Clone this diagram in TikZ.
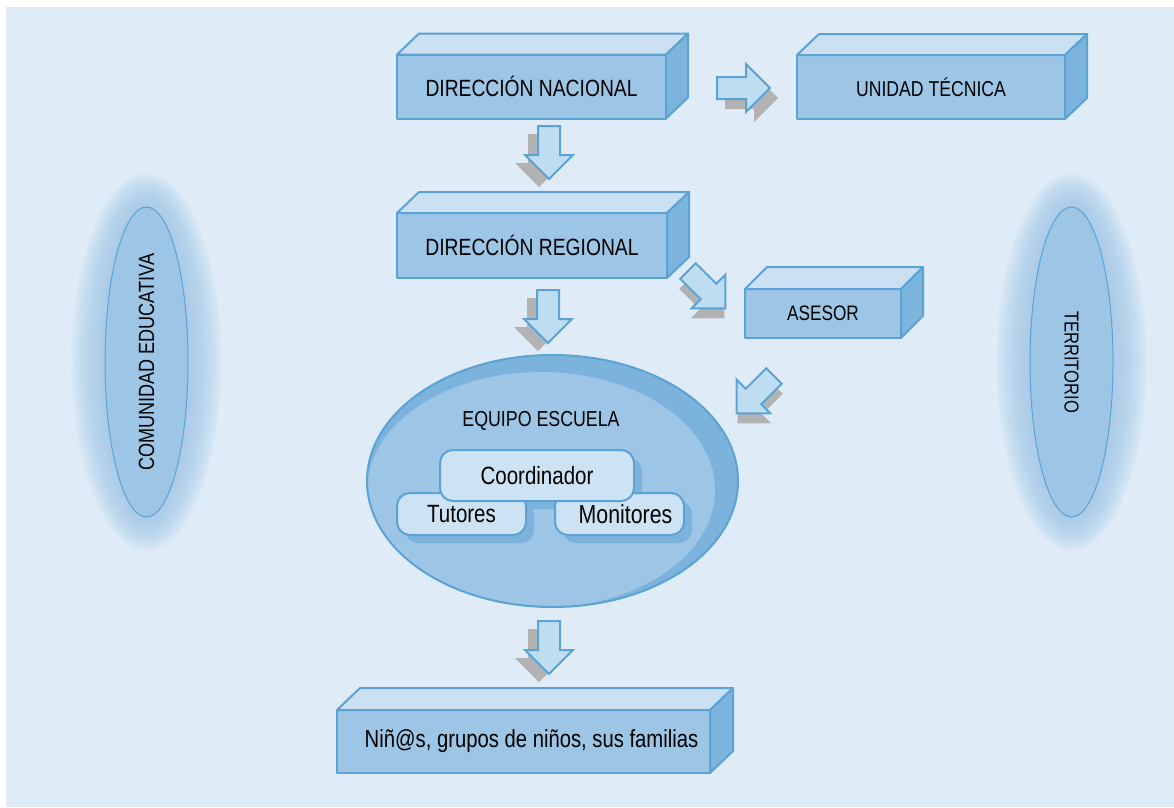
\documentclass[tikz,border=0pt]{standalone}
\usepackage{fontspec}
\setmainfont{Liberation Sans}[FakeStretch=0.82]
\usetikzlibrary{shapes.geometric,shadows,calc}
\definecolor{bg}{HTML}{DFECF7}
\definecolor{front}{HTML}{9DC6E6}
\definecolor{topc}{HTML}{CBE1F3}
\definecolor{sidec}{HTML}{7DB4DD}
\definecolor{border}{HTML}{5BA2D5}
\definecolor{arrowfill}{HTML}{BEDDF1}
\definecolor{shadowgray}{HTML}{B2B2B2}
\definecolor{crescent}{HTML}{7BB3DD}
\definecolor{lightbox}{HTML}{CDE3F4}
\newcommand\capsfont{\fontsize{21.5}{24}\selectfont}
\newcommand\bigcapsfont{\fontsize{23.5}{26}\selectfont}
\newcommand\lowfont{\fontsize{25}{28}\selectfont}
\tikzset{
  face/.style={fill=front, draw=border, line width=2pt, line join=round, inner sep=0pt, outer sep=0pt, font=\capsfont},
  topface/.style={fill=topc, draw=border, line width=2pt, line join=round},
  sideface/.style={fill=sidec, draw=border, line width=2pt, line join=round},
  arrowstyle/.style={fill=arrowfill, draw=border, line width=2pt, line join=miter},
  arrowshadow/.style={fill=shadowgray},
  rbox/.style={rounded corners=13pt, fill=lightbox, draw=border, line width=2pt, inner sep=0pt, font=\lowfont},
  rshadow/.style={drop shadow={shadow xshift=8pt, shadow yshift=-8pt, fill=crescent, opacity=1}},
  sideellipse/.style={ellipse, fill=front, draw=border, line width=1pt, inner sep=0pt, minimum width=310pt, minimum height=83pt, font=\fontsize{22}{24}\selectfont}
}
\newcommand\cubefaces[3]{%
  \draw[topface] (#1.north west) -- ++(#2,#3) -- ($(#1.north east)+(#2,#3)$) -- (#1.north east) -- cycle;
  \draw[sideface] (#1.north east) -- ++(#2,#3) -- ($(#1.south east)+(#2,#3)$) -- (#1.south east) -- cycle;
}
\newcommand\blockarrow[5]{%
  \fill[arrowshadow, shift={(#1,#2)}, shift={(#4,#5)}, rotate=#3]
    (0,-11) -- (29,-11) -- (29,-24) -- (53,0) -- (29,24) -- (29,11) -- (0,11) -- cycle;
  \filldraw[arrowstyle, shift={(#1,#2)}, rotate=#3]
    (0,-11) -- (29,-11) -- (29,-24) -- (53,0) -- (29,24) -- (29,11) -- (0,11) -- cycle;
}
\newcommand\glow[2]{%
  \foreach \i in {12,...,1}{%
    \pgfmathsetmacro\rx{41.5+2.8*\i}%
    \pgfmathsetmacro\ry{155+2.8*\i}%
    \fill[front, opacity=0.11] (#1,#2) ellipse [x radius=\rx, y radius=\ry];
  }%
}
\begin{document}
\begin{tikzpicture}[x=1pt,y=-1pt]
\useasboundingbox (0,0) rectangle (1174,807);
\fill[white] (0,0) rectangle (1174,807);
\fill[bg] (6,7) rectangle (1174,807);

% side ellipses
\glow{146.5}{362}
\node[sideellipse, rotate=90] (ce) at (146.5,362) {COMUNIDAD EDUCATIVA};
\glow{1071.5}{362}
\node[sideellipse, rotate=-90, font=\fontsize{20.2}{22}\selectfont] (te) at (1071.5,362) {TERRITORIO};

% boxes
\node[face, minimum width=269pt, minimum height=64pt, font=\bigcapsfont] (dn) at (531.5,86.5) {DIRECCIÓN NACIONAL};
\cubefaces{dn}{22}{-21}
\node[face, minimum width=268pt, minimum height=64pt] (ut) at (931,87) {UNIDAD TÉCNICA};
\cubefaces{ut}{22}{-21}
\node[face, minimum width=270pt, minimum height=65pt, font=\bigcapsfont] (dr) at (532,245.5) {DIRECCIÓN REGIONAL};
\cubefaces{dr}{22}{-21}
\node[face, minimum width=156pt, minimum height=49pt, font=\fontsize{21}{24}\selectfont] (as) at (823,313.5) {ASESOR};
\cubefaces{as}{22}{-22}
\node[face, minimum width=373pt, minimum height=63pt, font=\fontsize{24.7}{28}\selectfont] (ni) at (523.5,741.5) {\hspace*{16pt}Niñ@s, grupos de niños, sus familias};
\cubefaces{ni}{23}{-22}

% equipo escuela
\node[ellipse, minimum width=371pt, minimum height=252pt, fill=crescent, inner sep=0pt] (eq) at (552.5,481) {};
\begin{scope}
  \clip (eq.center) ellipse [x radius=185.5, y radius=126];
  \fill[front] (541,490) ellipse [x radius=174, y radius=118];
\end{scope}
\draw[border, line width=2pt] (eq.center) ellipse [x radius=185.5, y radius=126];
\node[font=\fontsize{21.7}{24}\selectfont] (eqlabel) at (541,421) {EQUIPO ESCUELA};
\fill[crescent, rounded corners=13pt] (448,458) rectangle (642,509);
\node[rbox, rshadow, minimum width=129pt, minimum height=42pt] (tu) at (461.5,514) {Tutores};
\node[rbox, rshadow, minimum width=129pt, minimum height=42pt, font=\fontsize{26}{28}\selectfont] (mo) at (619.5,514) {\hspace*{12pt}Monitores};
\node[rbox, minimum width=194pt, minimum height=51pt] (co) at (537,475.5) {Coordinador};

% block arrows
\blockarrow{717}{88}{0}{8}{10}
\blockarrow{549}{126}{-90}{-10}{8}
\blockarrow{548}{290}{-90}{-10}{8}
\blockarrow{688}{271}{-45}{-1}{10}
\blockarrow{774}{376}{-135}{1}{10}
\blockarrow{549}{621}{-90}{-10}{8}
\end{tikzpicture}
\end{document}
